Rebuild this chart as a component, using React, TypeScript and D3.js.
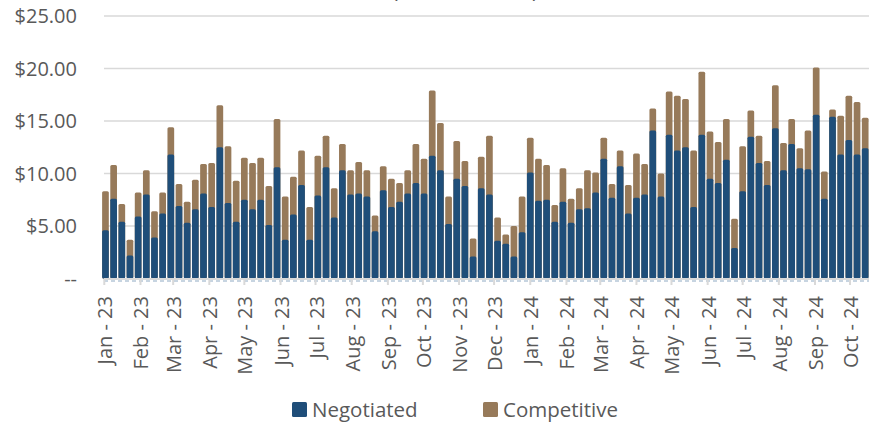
import React from "react";
import * as d3 from "d3";

// weekly values, $, one entry per Monday starting 2 Jan 2023
const negotiated = [
  4.6, 7.6, 5.4, 2.2, 5.9, 8.0, 3.9, 6.2, 11.8, 6.9, 5.3, 6.6, 8.1, 6.8, 12.5, 7.2, 5.4, 7.5, 6.6, 7.5,
  5.1, 10.6, 3.7, 6.1, 8.9, 3.7, 7.9, 10.6, 5.8, 10.3, 8.0, 8.1, 7.8, 4.5, 8.4, 6.8, 7.3, 8.1, 9.1, 8.1,
  11.7, 10.3, 5.2, 9.5, 8.8, 2.1, 8.6, 8.0, 3.6, 3.3, 2.1, 4.4, 10.1, 7.4, 7.5, 5.4, 7.3, 5.3, 6.6, 6.7,
  8.2, 11.4, 7.7, 10.7, 6.2, 7.7, 8.0, 14.1, 7.8, 13.7, 12.2, 12.5, 6.8, 13.7, 9.5, 9.1, 11.3, 2.9, 8.3, 13.5,
  11.0, 8.9, 14.3, 10.3, 12.8, 10.5, 10.4, 15.6, 7.6, 15.4, 11.8, 13.2, 11.8, 12.4, 11.3
];
const competitive = [
  3.7, 3.2, 1.7, 1.5, 2.3, 2.3, 2.5, 2.0, 2.6, 2.1, 2.0, 2.8, 2.8, 4.2, 4.0, 5.4, 3.9, 4.0, 4.4, 4.0,
  3.7, 4.6, 4.1, 3.6, 3.3, 3.1, 3.8, 3.0, 2.8, 2.5, 2.3, 3.0, 2.5, 1.5, 2.3, 2.7, 1.8, 2.2, 3.7, 3.3,
  6.2, 4.5, 2.6, 3.6, 2.4, 1.7, 3.0, 5.6, 2.2, 0.9, 2.9, 3.4, 3.3, 4.0, 3.3, 1.6, 3.2, 2.3, 2.0, 3.6,
  1.9, 2.0, 1.3, 1.5, 2.7, 4.2, 2.9, 2.1, 2.2, 4.1, 5.2, 4.6, 5.4, 6.0, 4.5, 3.9, 3.9, 2.8, 4.3, 2.5,
  2.6, 2.3, 4.1, 2.6, 2.4, 1.9, 3.7, 4.5, 2.6, 0.7, 3.7, 4.2, 5.0, 2.9, 3.0
];
const monthLabels = [
  "Jan - 23", "Feb - 23", "Mar - 23", "Apr - 23", "May - 23", "Jun - 23", "Jul - 23", "Aug - 23",
  "Sep - 23", "Oct - 23", "Nov - 23", "Dec - 23", "Jan - 24", "Feb - 24", "Mar - 24", "Apr - 24",
  "May - 24", "Jun - 24", "Jul - 24", "Aug - 24", "Sep - 24", "Oct - 24"
];
const yTicks = [0, 5, 10, 15, 20, 25];
const seriesNames = ["Negotiated", "Competitive"];

const parseMonth = d3.timeParse("%b - %y");
const weeks = d3.timeMonday.range(new Date(2023, 0, 2), new Date(2024, 9, 22));

export default function App() {
  const width = 869,
    height = 422;
  const navy = "#1f4e79",
    tan = "#977a5a",
    labelColor = "#595959",
    gridColor = "#d9d9d9";
  const font = "'Open Sans', sans-serif";

  const x = d3
    .scaleTime()
    .domain([new Date(2023, 0, 1), new Date(2024, 10, 1)])
    .range([104.3, 886.2]);
  const y = d3.scaleLinear().domain([0, 25]).range([278.5, 16]);
  const bw = 6.7;

  return (
    <svg
      width={width}
      height={height}
      style={{ position: "absolute", left: 0, top: 0, background: "#fff" }}
    >
      {/* cut-off title */}
      <text x={392} y={-2} fontFamily={font} fontSize={21} fill={labelColor}>
        (
      </text>
      <text x={532} y={-2} fontFamily={font} fontSize={21} fill={labelColor}>
        )
      </text>

      {yTicks.map(t => (
        <g key={t}>
          {t > 0 && (
            <line x1={104} x2={width} y1={y(t)} y2={y(t)} stroke={gridColor} strokeWidth={1.5} />
          )}
          <text
            x={77}
            y={y(t)}
            dy="0.35em"
            textAnchor="end"
            fontFamily={font}
            fontSize={20}
            fill={labelColor}
          >
            {t === 0 ? "--" : "$" + t.toFixed(2)}
          </text>
        </g>
      ))}

      {weeks.map((d, i) => {
        const x0 = x(d) - bw / 2;
        const total = negotiated[i] + competitive[i];
        return (
          <g key={i}>
            <rect x={x0} y={y(total)} width={bw} height={y(0) - y(total)} rx={1.5} fill={tan} />
            <rect
              x={x0}
              y={y(negotiated[i])}
              width={bw}
              height={y(0) - y(negotiated[i])}
              rx={1.5}
              fill={navy}
            />
          </g>
        );
      })}

      <line x1={104} x2={width} y1={279} y2={279} stroke={gridColor} strokeWidth={2} />
      <line
        x1={104}
        x2={width}
        y1={281}
        y2={281}
        stroke="#8faac3"
        strokeWidth={1}
        strokeDasharray="4,3"
      />

      {monthLabels.map(m => {
        const tx = x(parseMonth(m));
        return (
          <g key={m}>
            <line x1={tx} x2={tx} y1={279} y2={285} stroke={gridColor} strokeWidth={2} />
            <text
              transform={`translate(${tx + 1},296) rotate(-90)`}
              dy="0.35em"
              textAnchor="end"
              fontFamily={font}
              fontSize={20}
              fill={labelColor}
            >
              {m}
            </text>
          </g>
        );
      })}

      {seriesNames.map((s, i) => {
        const lx = i === 0 ? 292 : 483;
        return (
          <g key={s}>
            <rect x={lx} y={402} width={15} height={15} rx={1.5} fill={i === 0 ? navy : tan} />
            <text x={lx + 20} y={417} fontFamily={font} fontSize={20.5} fill={labelColor}>
              {s}
            </text>
          </g>
        );
      })}
    </svg>
  );
}
